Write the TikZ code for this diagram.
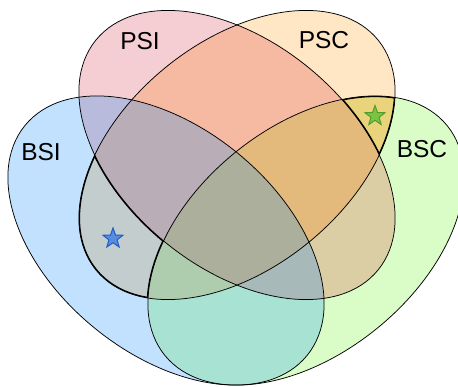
\documentclass[tikz,border=0pt]{standalone}
\usepackage{fontspec}
\setmainfont{Liberation Sans}
\usetikzlibrary{shapes.geometric}
\definecolor{cP}{HTML}{F5CED4}
\definecolor{cO}{HTML}{FFE6C4}
\definecolor{cB}{HTML}{C2E1FE}
\definecolor{cG}{HTML}{DAFDC8}
\definecolor{cPO}{HTML}{F6B9A1}
\definecolor{cPB}{HTML}{B9BBDD}
\definecolor{cOG}{HTML}{E9D47B}
\definecolor{cPOB}{HTML}{B9ADB8}
\definecolor{cPOG}{HTML}{E3BA7C}
\definecolor{cALL}{HTML}{ABAF9C}
\definecolor{cOB}{HTML}{C3CDCE}
\definecolor{cPG}{HTML}{DBCEA4}
\definecolor{cOBG}{HTML}{AECDAE}
\definecolor{cPBG}{HTML}{A7B9B8}
\definecolor{cBG}{HTML}{A8E2D3}
\definecolor{starB}{HTML}{5A8CDD}
\definecolor{starBe}{HTML}{1F5CC4}
\definecolor{starG}{HTML}{7FC241}
\definecolor{starGe}{HTML}{4E9E2E}
\newcommand\ePSI{\pgfpathellipse{\pgfpoint{237pt}{-155pt}}{\pgfpoint{141.03pt}{-115.02pt}}{\pgfpoint{71.42pt}{87.56pt}}}
\newcommand\ePSC{\pgfpathellipse{\pgfpoint{237pt}{-155pt}}{\pgfpoint{141.03pt}{115.02pt}}{\pgfpoint{-71.42pt}{87.56pt}}}
\newcommand\eBSI{\pgfpathellipse{\pgfpoint{166pt}{-240.5pt}}{\pgfpoint{141.03pt}{-115.02pt}}{\pgfpoint{71.42pt}{87.56pt}}}
\newcommand\eBSC{\pgfpathellipse{\pgfpoint{306pt}{-240.5pt}}{\pgfpoint{141.03pt}{115.02pt}}{\pgfpoint{-71.42pt}{87.56pt}}}
\newcommand\incl[1]{#1\pgfusepath{clip}}
\newcommand\excl[1]{\pgfseteorule\pgfpathrectangle{\pgfpoint{-20pt}{-420pt}}{\pgfpoint{500pt}{440pt}}#1\pgfusepath{clip}\pgfsetnonzerorule}
\newcommand\regfill[2]{\begin{pgfscope}#2\pgfpathrectangle{\pgfpoint{0pt}{-386pt}}{\pgfpoint{458pt}{386pt}}\pgfsetfillcolor{#1}\pgfusepath{fill}\end{pgfscope}}
\newcommand\regedge[1]{\begin{pgfscope}#1\pgfsetlinewidth{2.4pt}\pgfsetstrokecolor{black}\ePSI\pgfusepath{stroke}\ePSC\pgfusepath{stroke}\eBSI\pgfusepath{stroke}\eBSC\pgfusepath{stroke}\end{pgfscope}}
\tikzset{lbl/.style={inner sep=0pt, font=\fontsize{24.5}{28}\selectfont},
  mystar/.style={star, star points=5, star point ratio=2.45, minimum size=21pt, inner sep=0pt, line width=1pt}}
\begin{document}
\begin{tikzpicture}[x=1pt,y=-1pt]
\useasboundingbox (0,0) rectangle (458,386);
\begin{scope}
\clip (0,0) rectangle (458,386);
% single sets
\regfill{cP}{\incl\ePSI\excl\ePSC\excl\eBSI\excl\eBSC}
\regfill{cO}{\incl\ePSC\excl\ePSI\excl\eBSI\excl\eBSC}
\regfill{cB}{\incl\eBSI\excl\ePSI\excl\ePSC\excl\eBSC}
\regfill{cG}{\incl\eBSC\excl\ePSI\excl\ePSC\excl\eBSI}
% pairs
\regfill{cPO}{\incl\ePSI\incl\ePSC\excl\eBSI\excl\eBSC}
\regfill{cPB}{\incl\ePSI\incl\eBSI\excl\ePSC\excl\eBSC}
\regfill{cOG}{\incl\ePSC\incl\eBSC\excl\ePSI\excl\eBSI}
\regfill{cOB}{\incl\ePSC\incl\eBSI\excl\ePSI\excl\eBSC}
\regfill{cPG}{\incl\ePSI\incl\eBSC\excl\ePSC\excl\eBSI}
\regfill{cBG}{\incl\eBSI\incl\eBSC\excl\ePSI\excl\ePSC}
% triples
\regfill{cPOB}{\incl\ePSI\incl\ePSC\incl\eBSI\excl\eBSC}
\regfill{cPOG}{\incl\ePSI\incl\ePSC\incl\eBSC\excl\eBSI}
\regfill{cOBG}{\incl\ePSC\incl\eBSI\incl\eBSC\excl\ePSI}
\regfill{cPBG}{\incl\ePSI\incl\eBSI\incl\eBSC\excl\ePSC}
% all
\regfill{cALL}{\incl\ePSI\incl\ePSC\incl\eBSI\incl\eBSC}
% outlines
\pgfsetlinewidth{0.75pt}\pgfsetstrokecolor{black}
\ePSI\pgfusepath{stroke}
\ePSC\pgfusepath{stroke}
\eBSI\pgfusepath{stroke}
\eBSC\pgfusepath{stroke}
% highlighted regions
\regedge{\incl\ePSC\incl\eBSI\excl\ePSI\excl\eBSC}
\regedge{\incl\ePSC\incl\eBSC\excl\ePSI\excl\eBSI}
\end{scope}
\node[lbl] (lpsi) at (140,41) {PSI};
\node[lbl] (lpsc) at (324,40) {PSC};
\node[lbl] (lbsi) at (41,152) {BSI};
\node[lbl] (lbsc) at (422,149) {BSC};
\node[mystar, fill=starB, draw=starBe] (s1) at (113,238.5) {};
\node[mystar, fill=starG, draw=starGe] (s2) at (375,116) {};
\end{tikzpicture}
\end{document}
